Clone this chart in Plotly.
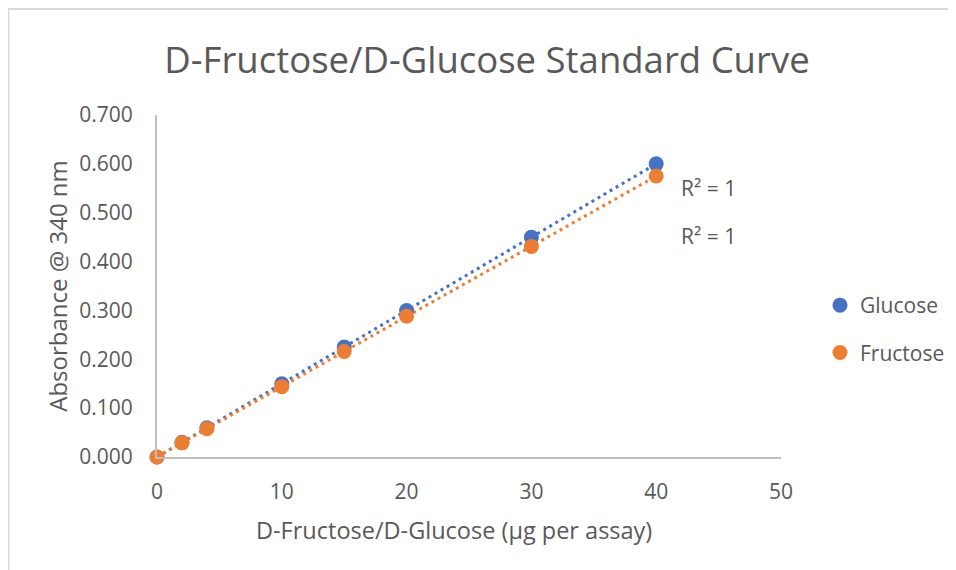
import numpy as np
import plotly.graph_objects as go

amount = [0, 2, 4, 10, 15, 20, 30, 40]
glucose = [0.000, 0.030, 0.060, 0.150, 0.225, 0.300, 0.450, 0.600]
fructose = [0.000, 0.029, 0.058, 0.144, 0.216, 0.288, 0.431, 0.575]
series_names = ["Glucose", "Fructose"]
colors = ["#4472C4", "#ED7D31"]
r2_labels = ["R² = 1", "R² = 1"]
x_title = "D-Fructose/D-Glucose (µg per assay)"
y_title = "Absorbance @ 340 nm"
chart_title = "D-Fructose/D-Glucose Standard Curve"

FONT = "Open Sans"
TXT = "#595959"

# plot area geometry in figure pixels (page is offset by 8px body margin)
L, T, PW, PH = 149, 107, 624, 342
W, H = 956, 570

fig = go.Figure()
xs = np.array(amount, dtype=float)
fits = []
for ys in [glucose, fructose]:
    m, b = np.polyfit(xs, np.array(ys), 1)
    fits.append((m, b))
for (m, b), c in zip(fits, colors):
    tx = [min(amount), max(amount)]
    fig.add_trace(go.Scatter(x=tx, y=[m * t + b for t in tx], mode="lines",
                             line=dict(color=c, width=3, dash="3px,4px"),
                             showlegend=False, hoverinfo="skip", cliponaxis=False))
for name, ys, c in zip(series_names, [glucose, fructose], colors):
    fig.add_trace(go.Scatter(x=amount, y=ys, mode="markers", name=name,
                             marker=dict(color=c, size=15, line=dict(width=0)),
                             legendgroup=name, cliponaxis=False))

fig.add_annotation(x=41.8, y=0.551, text=r2_labels[0], showarrow=False, xanchor="left",
                   yanchor="middle", font=dict(family=FONT, size=21, color=TXT))
fig.add_annotation(x=41.8, y=0.452, text=r2_labels[1], showarrow=False, xanchor="left",
                   yanchor="middle", font=dict(family=FONT, size=21, color=TXT))

# x-axis title (slightly left of the plot centre, as in the reference)
fig.add_annotation(xref="paper", yref="paper", x=(445.5 - L) / PW, y=(T + PH - 522) / PH,
                   text=x_title, showarrow=False, xanchor="center", yanchor="middle",
                   font=dict(family=FONT, size=23.5, color=TXT))

# chart border
fig.add_shape(type="rect", xref="paper", yref="paper",
              x0=(0.5 - L) / PW, x1=1.6, y0=-0.6, y1=(T + PH - 1) / PH,
              line=dict(color="#D9D9D9", width=2), layer="below")

fig.update_layout(
    width=W, height=H,
    margin=dict(l=L, r=W - L - PW, t=T, b=H - T - PH),
    paper_bgcolor="white", plot_bgcolor="white",
    font=dict(family=FONT, color=TXT, size=21),
    title=dict(text=chart_title, x=479 / W, xanchor="center",
               xref="container", y=1 - 52 / H, yanchor="middle",
               font=dict(family=FONT, size=36.5, color=TXT)),
    showlegend=True,
    legend=dict(x=(812 - L) / PW, xanchor="left", y=(T + PH - 277) / PH, yanchor="top",
                font=dict(family=FONT, size=21, color=TXT), tracegroupgap=17,
                traceorder="grouped", bgcolor="rgba(0,0,0,0)"),
)
fig.update_xaxes(range=[0, 50], dtick=10, tick0=0, showgrid=False, zeroline=False,
                 showline=True, linecolor="#BFBFBF", linewidth=2, ticks="",
                 ticklabelstandoff=15, tickfont=dict(family=FONT, size=21, color=TXT))
fig.update_yaxes(range=[0, 0.7], dtick=0.1, tick0=0, tickformat=".3f", showgrid=False,
                 zeroline=False, showline=True, linecolor="#BFBFBF", linewidth=2, ticks="",
                 ticklabelstandoff=18, tickfont=dict(family=FONT, size=21, color=TXT),
                 title=dict(text=y_title, standoff=5,
                            font=dict(family=FONT, size=24, color=TXT)))

fig.write_html("out.html")
